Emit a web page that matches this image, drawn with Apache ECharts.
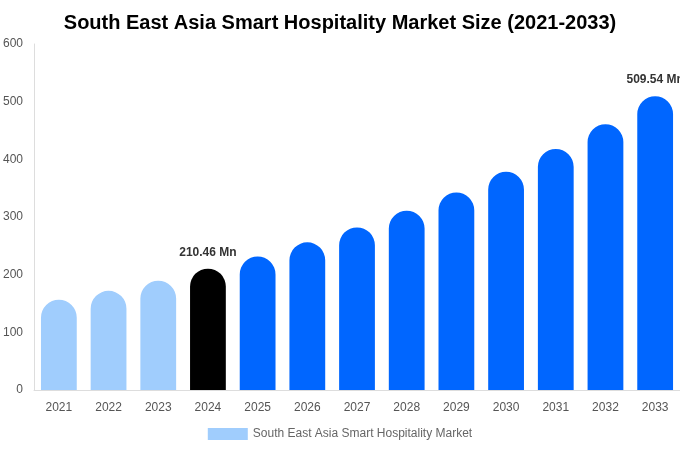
<!DOCTYPE html>
<html style="height: 100%">
<head>
	<meta charset="UTF-8">
	<title>South East Asia Smart Hospitality Market Size</title>
	<script src="https://cdn.jsdelivr.net/npm/echarts@6/dist/echarts.min.js"></script>
</head>
<body style="height: 100%; margin: 0">
	<div id="container" style="width: 680px; height: 450px;"></div>
<script type="text/javascript">
var years = ['2021', '2022', '2023', '2024', '2025', '2026', '2027', '2028', '2029', '2030', '2031', '2032', '2033'];
var marketSize = [156.5, 172, 189.5, 210.46, 231.5, 256, 282, 311, 342.6, 378.5, 418, 461, 509.54];
var labelledYears = ['2024', '2033'];
var historicYears = ['2021', '2022', '2023'];
var baseYear = '2024';

var lightBlue = '#a0cdfd';
var blue = '#0066ff';

var dom = document.getElementById('container');
var myChart = echarts.init(dom);

var barData = marketSize.map(function (v, i) {
	var y = years[i];
	var c = blue;
	if (historicYears.indexOf(y) >= 0) c = lightBlue;
	if (y === baseYear) c = '#000000';
	var item = { value: v, itemStyle: { color: c } };
	if (labelledYears.indexOf(y) >= 0) {
		item.label = {
			show: true,
			position: 'top',
			distance: 10,
			formatter: function (p) { return p.value + ' Mn'; },
			fontWeight: 'bold',
			fontSize: 12,
			color: '#333'
		};
	}
	return item;
});

var option = {
	title: {
		text: 'South East Asia Smart Hospitality Market Size (2021-2033)',
		left: 'center',
		top: 8,
		textStyle: { fontSize: 20, fontWeight: 'bold', color: '#000', fontFamily: 'Liberation Sans, Arial, sans-serif' }
	},
	textStyle: { fontFamily: 'Liberation Sans, Arial, sans-serif' },
	legend: {
		bottom: 5,
		left: 'center',
		icon: 'rect',
		itemWidth: 40,
		itemHeight: 12,
		textStyle: { color: '#666', fontSize: 12 },
		data: ['South East Asia Smart Hospitality Market']
	},
	grid: { left: 34, right: 0, top: 44, bottom: 60 },
	xAxis: {
		type: 'category',
		data: years,
		axisTick: { show: false },
		axisLine: { lineStyle: { color: '#ddd' } },
		axisLabel: { color: '#555', fontSize: 12, margin: 12 }
	},
	yAxis: {
		type: 'value',
		min: 0,
		max: 600,
		interval: 100,
		axisLine: { show: true, lineStyle: { color: '#ddd' } },
		splitLine: { show: false },
		axisLabel: { color: '#555', fontSize: 12, margin: 11 }
	},
	series: [{
		name: 'South East Asia Smart Hospitality Market',
		type: 'bar',
		barWidth: '72%',
		itemStyle: { color: lightBlue, borderRadius: [18, 18, 0, 0] },
		data: barData
	}]
};

myChart.setOption(option, true);
</script>
</body>
</html>
